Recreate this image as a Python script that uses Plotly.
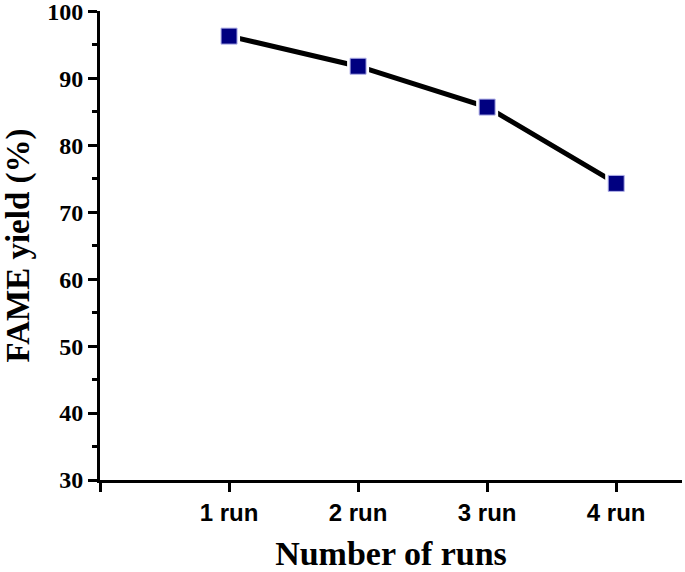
import plotly.graph_objects as go

categories = ["1 run", "2 run", "3 run", "4 run"]
fame_yield = [96.3, 91.8, 85.7, 74.3]
y_ticks = [30, 40, 50, 60, 70, 80, 90, 100]

x_pos = list(range(1, len(categories) + 1))
x_tickvals = [0] + x_pos
x_ticktext = [""] + ["<b>%s</b>" % c for c in categories]
y_ticktext = ["<b>%d</b>" % v for v in y_ticks]

fig = go.Figure()
fig.add_trace(go.Scatter(x=x_pos, y=fame_yield, mode="lines",
                         line=dict(color="black", width=5),
                         hoverinfo="skip", showlegend=False, cliponaxis=False))
# white halo giving the gap between line and marker
fig.add_trace(go.Scatter(x=x_pos, y=fame_yield, mode="markers",
                         marker=dict(symbol="square", size=22, color="white",
                                     line=dict(width=0)),
                         hoverinfo="skip", showlegend=False, cliponaxis=False))
fig.add_trace(go.Scatter(x=x_pos, y=fame_yield, mode="markers",
                         marker=dict(symbol="square", size=16, color="#000080",
                                     line=dict(width=1, color="#b0b0e8")),
                         showlegend=False, cliponaxis=False))

fig.update_layout(
    width=685, height=572,
    margin=dict(l=100, r=3, t=11, b=92),
    plot_bgcolor="white", paper_bgcolor="white",
    xaxis=dict(
        range=[0, 4.51], tickvals=x_tickvals, ticktext=x_ticktext,
        automargin=False, ticklabeloverflow="allow",
        showgrid=False, zeroline=False,
        showline=True, linecolor="black", linewidth=3,
        ticks="outside", ticklen=9, tickwidth=3, tickcolor="black",
        tickfont=dict(family="Liberation Sans, Arial", size=24, color="black"),
        title=dict(text="<b>Number of runs</b>", standoff=22,
                   font=dict(family="Liberation Serif, Times New Roman", size=34, color="black")),
    ),
    yaxis=dict(
        range=[30, 100.05], tickvals=y_ticks, ticktext=y_ticktext,
        automargin=False, ticklabeloverflow="allow",
        showgrid=False, zeroline=False,
        showline=True, linecolor="black", linewidth=3,
        ticks="outside", ticklen=9, tickwidth=3, tickcolor="black",
        minor=dict(dtick=5, ticks="outside", ticklen=5, tickwidth=3, tickcolor="black", showgrid=False),
        tickfont=dict(family="Liberation Serif, Times New Roman", size=24, color="black"),
        title=dict(text="<b>FAME yield (%)</b>", standoff=18,
                   font=dict(family="Liberation Serif, Times New Roman", size=33, color="black")),
    ),
)

fig.write_html("out.html", config={"displayModeBar": False},
               post_script="document.body.style.margin='0';")
